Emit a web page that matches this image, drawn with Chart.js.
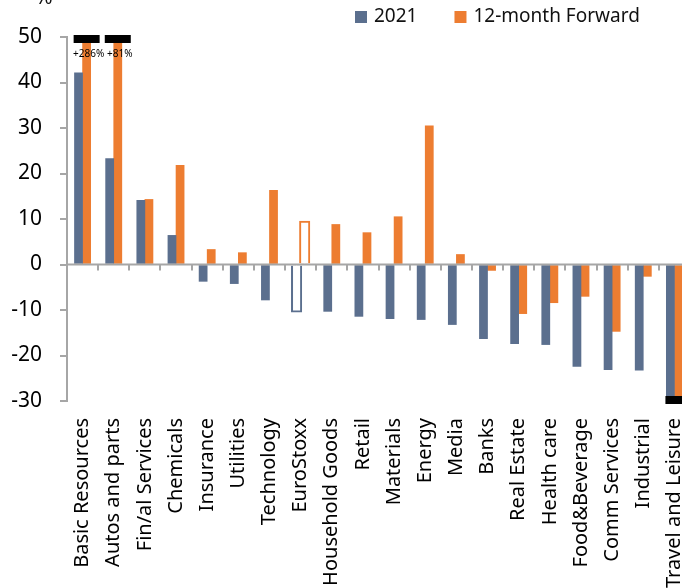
<!DOCTYPE html>
<html>
<head>
<meta charset="utf-8">
<script src="https://cdn.jsdelivr.net/npm/chart.js@4.4.1/dist/chart.umd.min.js"></script>
<style>
html, body { margin: 0; padding: 0; background: #fff; overflow: hidden; }
#wrap { width: 690px; height: 588px; }
</style>
</head>
<body>
<div id="wrap"><canvas id="grafico"></canvas></div>
<script>
const setores = ['Basic Resources', 'Autos and parts', 'Fin/al Services', 'Chemicals', 'Insurance', 'Utilities',
    'Technology', 'EuroStoxx', 'Household Goods', 'Retail', 'Materials', 'Energy', 'Media', 'Banks',
    'Real Estate', 'Health care', 'Food&Beverage', 'Comm Services', 'Industrial', 'Travel and Leisure'];
const valores_2021 = [42.1, 23.3, 14.1, 6.4, -3.7, -4.2, -7.8, -10.2, -10.3, -11.4, -11.9, -12.1,
    -13.2, -16.3, -17.4, -17.6, -22.4, -23.1, -23.2, -32];
const valores_forward = [286, 81, 14.3, 21.8, 3.3, 2.6, 16.3, 9.3, 8.8, 7.0, 10.5, 30.5,
    2.2, -1.3, -10.8, -8.4, -7.0, -14.7, -2.6, -38];
const nomes_series = ['2021', '12-month Forward'];
const ticks_y = [50, 40, 30, 20, 10, 0, -10, -20, -30];
const indice_indice = setores.indexOf('EuroStoxx');

const azul = '#5B6F8E';
const laranja = '#ED7D31';
const cinza = '#A6A6A6';
const fonte = "'Noto Sans', sans-serif";

const preenchimento = (cor) => setores.map((s, i) => i === indice_indice ? '#ffffff' : cor);
const bordas = setores.map((s, i) => i === indice_indice ? 2 : 0);
const inflar = setores.map((s, i) => i === indice_indice ? 1.5 : 0.33);

// linha do zero com marcas entre categorias
const linha_zero = {
    id: 'linha_zero',
    afterDatasetsDraw(chart) {
        const {ctx, chartArea, scales: {x, y}} = chart;
        const y0 = y.getPixelForValue(0);
        ctx.save();
        ctx.strokeStyle = cinza;
        ctx.lineWidth = 2;
        ctx.beginPath();
        ctx.moveTo(chartArea.left, y0);
        ctx.lineTo(chartArea.right, y0);
        for (let i = 0; i <= setores.length; i++) {
            const px = Math.round(x.getPixelForValue(i - 0.5));
            ctx.moveTo(px, y0);
            ctx.lineTo(px, y0 + 6);
        }
        ctx.stroke();
        ctx.restore();
    }
};

// barras que passam da escala: tarja preta e o valor
const marcas_de_corte = {
    id: 'marcas_de_corte',
    afterDatasetsDraw(chart) {
        const {ctx, chartArea, scales: {y}} = chart;
        ctx.save();
        setores.forEach((s, i) => {
            const acima = [], abaixo = [];
            chart.data.datasets.forEach((ds, d) => {
                const v = ds.data[i];
                const barra = chart.getDatasetMeta(d).data[i];
                if (v > y.max) acima.push({x: barra.x, v: v});
                if (v < y.min) abaixo.push({x: barra.x, v: v});
            });
            if (acima.length) {
                const cx = acima.reduce((a, b) => a + b.x, 0) / acima.length;
                ctx.fillStyle = '#000';
                ctx.fillRect(cx - 13, chartArea.top - 2, 26, 8);
                ctx.font = '10px ' + fonte;
                ctx.textAlign = 'center';
                ctx.textBaseline = 'middle';
                ctx.fillText('+' + acima[acima.length - 1].v + '%', cx + 2, chartArea.top + 17);
            }
            if (abaixo.length) {
                const cx = abaixo.reduce((a, b) => a + b.x, 0) / abaixo.length;
                ctx.fillStyle = '#000';
                ctx.fillRect(cx - 9, chartArea.bottom - 5, 26, 8);
            }
        });
        ctx.restore();
    }
};

// legenda e o "%" no topo
const legenda = {
    id: 'legenda',
    afterDraw(chart) {
        const ctx = chart.ctx;
        ctx.save();
        ctx.font = '19px ' + fonte;
        ctx.textBaseline = 'middle';
        ctx.textAlign = 'left';
        let x = 355;
        chart.data.datasets.forEach((ds) => {
            ctx.fillStyle = ds.borderColor;
            ctx.fillRect(x, 11, 12, 12);
            ctx.fillStyle = '#111';
            ctx.fillText(ds.label, x + 19, 17);
            x += 19 + ctx.measureText(ds.label).width + 37;
        });
        ctx.font = '21px ' + fonte;
        ctx.textAlign = 'center';
        ctx.textBaseline = 'alphabetic';
        ctx.fillText('%', 44, 4);
        ctx.restore();
    }
};

const grafico = new Chart(document.getElementById('grafico'), {
    type: 'bar',
    data: {
        labels: setores,
        datasets: [
            {
                label: nomes_series[0],
                data: valores_2021,
                backgroundColor: preenchimento(azul),
                borderColor: azul,
                borderWidth: bordas,
                inflateAmount: inflar,
                categoryPercentage: 0.52,
                barPercentage: 1.0,
            },
            {
                label: nomes_series[1],
                data: valores_forward,
                backgroundColor: preenchimento(laranja),
                borderColor: laranja,
                borderWidth: bordas,
                inflateAmount: inflar,
                categoryPercentage: 0.52,
                barPercentage: 1.0,
            }
        ]
    },
    options: {
        responsive: true,
        maintainAspectRatio: false,
        animation: false,
        layout: {padding: {top: 37, right: 0, left: 0, bottom: 0}},
        plugins: {
            legend: {display: false},
            tooltip: {enabled: false},
        },
        scales: {
            x: {
                grid: {display: false, drawTicks: false},
                border: {display: false},
                ticks: {
                    autoSkip: false,
                    minRotation: 90,
                    maxRotation: 90,
                    padding: 17,
                    color: '#000',
                    font: {family: fonte, size: 20},
                },
                afterFit: (scale) => {
                    scale.height = 187;
                    scale.paddingLeft = 0;
                    scale.paddingRight = 0;
                },
            },
            y: {
                min: -30,
                max: 50,
                afterBuildTicks: (scale) => { scale.ticks = ticks_y.map(v => ({value: v})); },
                grid: {drawOnChartArea: false, color: cinza, lineWidth: 2, tickLength: 7},
                border: {color: cinza, width: 2},
                ticks: {
                    padding: 18,
                    color: '#000',
                    font: {family: fonte, size: 21},
                },
                afterFit: (scale) => { scale.width = 67; },
            }
        }
    },
    plugins: [linha_zero, marcas_de_corte, legenda]
});
</script>
</body>
</html>
